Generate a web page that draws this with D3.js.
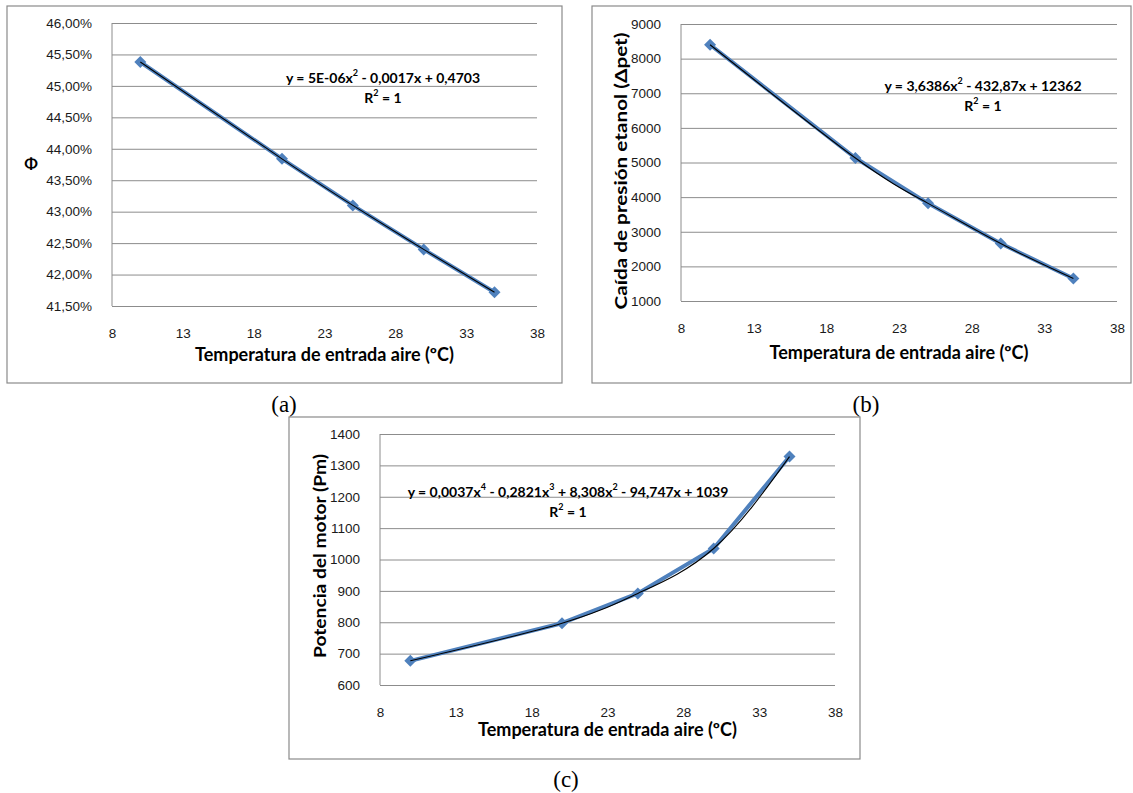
<!DOCTYPE html>
<html>
<head>
  <meta charset="utf-8">
  <title>Temperatura de entrada aire</title>
  <script src="https://d3js.org/d3.v7.min.js"></script>
  <style>
    body { margin: 0; background: #fff; }
    svg { display: block; font-family: Lato, "Open Sans", sans-serif; }
    .frame { fill: #fff; stroke: #8a8a8a; stroke-width: 1.2; }
    .grid line { stroke: #8c8c8c; stroke-width: 1; }
    .grid .domain { display: none; }
    .axis .domain { stroke: #8c8c8c; stroke-width: 1; }
    .axis .tick line { display: none; }
    .axis .tick text { font-size: 13.5px; fill: #1a1a1a; }
    .title { font-size: 18px; font-weight: bold; fill: #000; }
    .eq { font-size: 14px; font-weight: bold; fill: #000; }
    .series { fill: none; stroke: #4f81bd; stroke-width: 4; stroke-linejoin: round; }
    .trend { fill: none; stroke: #000; stroke-width: 1.1; }
    .marker { fill: #4f81bd; }
    .caption { font-family: "Liberation Serif", "DejaVu Serif", serif; font-size: 23px; fill: #000; }
  </style>
</head>
<body>
<script>
  // shared x values (temperature, ºC)
  const temps = [10, 20, 25, 30, 35]
  const xTicks = [8, 13, 18, 23, 28, 33, 38]

  // (a) phi, in %
  const phiValues = [45.38, 43.84, 43.10, 42.40, 41.72]
  const phiTicks = [41.5, 42, 42.5, 43, 43.5, 44, 44.5, 45, 45.5, 46]

  // (b) pressure drop of ethanol
  const pressureValues = [8400, 5130, 3820, 2660, 1650]
  const pressureTicks = [1000, 2000, 3000, 4000, 5000, 6000, 7000, 8000, 9000]

  // (c) engine power
  const powerValues = [677, 797, 892, 1035, 1328]
  const powerTicks = [600, 700, 800, 900, 1000, 1100, 1200, 1300, 1400]

  const xTitle = 'Temperatura de entrada aire (ºC)'

  const comma = d3.formatLocale({ decimal: ',', thousands: '.', grouping: [3], currency: ['', ''] })
  const pctFormat = d => comma.format('.2f')(d) + '%'

  const svg = d3.select('body').append('svg')
    .attr('width', 1133)
    .attr('height', 793)

  const panels = [
    {
      box: [7, 6, 555, 377], plot: { left: 112, right: 537, top: 23, bottom: 306 },
      values: phiValues, ticks: phiTicks, fmt: pctFormat,
      yTitle: 'Φ', yTitleRotate: false, yTitlePos: [31, 162],
      xTitleY: 354,
      eq: ['y = 5E-06x', '2', ' - 0,0017x + 0,4703'], eqPos: [383, 77],
      caption: '(a)', captionPos: [284, 404]
    },
    {
      box: [592, 6, 539, 377], plot: { left: 681, right: 1117, top: 24, bottom: 301 },
      values: pressureValues, ticks: pressureTicks, fmt: d3.format('d'),
      yTitle: 'Caída de presión etanol (Δpet)', yTitleRotate: true, yTitlePos: [620, 171], yTitleLen: 277,
      xTitleY: 352,
      eq: ['y = 3,6386x', '2', ' - 432,87x + 12362'], eqPos: [983, 85],
      caption: '(b)', captionPos: [866, 404]
    },
    {
      box: [289, 417, 571, 342], plot: { left: 380, right: 835, top: 434, bottom: 685 },
      values: powerValues, ticks: powerTicks, fmt: d3.format('d'),
      yTitle: 'Potencia del motor (Pm)', yTitleRotate: true, yTitlePos: [319, 556], yTitleLen: 204,
      xTitleY: 729,
      eq: ['y = 0,0037x', '4', ' - 0,2821x', '3', ' + 8,308x', '2', ' - 94,747x + 1039'], eqPos: [568, 491],
      caption: '(c)', captionPos: [566, 779]
    }
  ]

  panels.forEach(drawPanel)

  function drawPanel(p) {
    const pl = p.plot
    svg.append('rect')
      .attr('class', 'frame')
      .attr('x', p.box[0]).attr('y', p.box[1])
      .attr('width', p.box[2]).attr('height', p.box[3])

    const x = d3.scaleLinear().domain([8, 38]).range([pl.left, pl.right])
    const y = d3.scaleLinear().domain(d3.extent(p.ticks)).range([pl.bottom, pl.top])

    //Draw grid
    svg.append('g')
      .attr('class', 'grid')
      .attr('transform', `translate(${pl.left},0)`)
      .call(d3.axisLeft(y).tickValues(p.ticks).tickSize(-(pl.right - pl.left)).tickFormat(''))

    // y axis
    const yAxis = svg.append('g')
      .attr('class', 'axis')
      .attr('transform', `translate(${pl.left},0)`)
      .call(d3.axisLeft(y).tickValues(p.ticks).tickFormat(p.fmt).tickSizeOuter(0).tickPadding(14))
    yAxis.select('.domain').attr('d', `M0,${pl.top}V${pl.bottom}`)

    // x axis (labels only)
    const xAxis = svg.append('g')
      .attr('class', 'axis')
      .attr('transform', `translate(0,${pl.bottom})`)
      .call(d3.axisBottom(x).tickValues(xTicks).tickFormat(d3.format('d')).tickSizeOuter(0).tickPadding(16))
    xAxis.select('.domain').remove()

    const pts = temps.map((t, i) => [t, p.values[i]])

    // data series
    svg.append('path')
      .datum(pts)
      .attr('class', 'series')
      .attr('d', d3.line().x(d => x(d[0])).y(d => y(d[1])))

    // diamond markers (square turned 45 degrees)
    svg.selectAll(null)
      .data(pts)
      .enter()
      .append('path')
      .attr('class', 'marker')
      .attr('transform', d => `translate(${x(d[0])},${y(d[1])}) rotate(45)`)
      .attr('d', d3.symbol().type(d3.symbolSquare).size(72))

    // trendline (smooth through the points)
    svg.append('path')
      .datum(pts)
      .attr('class', 'trend')
      .attr('d', d3.line().x(d => x(d[0])).y(d => y(d[1])).curve(d3.curveNatural))

    // equation
    const eq = svg.append('text')
      .attr('class', 'eq')
      .attr('x', p.eqPos[0]).attr('y', p.eqPos[1])
      .attr('text-anchor', 'middle')
      .attr('dominant-baseline', 'central')
    p.eq.forEach((s, i) => {
      const sup = i % 2 === 1
      eq.append('tspan')
        .attr('dy', sup ? -5 : (i > 0 ? 5 : 0))
        .style('font-size', sup ? '9px' : null)
        .text(s)
    })
    const r2 = svg.append('text')
      .attr('class', 'eq')
      .attr('x', p.eqPos[0]).attr('y', p.eqPos[1] + 20)
      .attr('text-anchor', 'middle')
      .attr('dominant-baseline', 'central')
    r2.append('tspan').text('R')
    r2.append('tspan').attr('dy', -5).style('font-size', '9px').text('2')
    r2.append('tspan').attr('dy', 5).text(' = 1')

    // x Axis Title
    svg.append('text')
      .attr('class', 'title')
      .attr('x', (pl.left + pl.right) / 2)
      .attr('y', p.xTitleY)
      .attr('text-anchor', 'middle')
      .attr('dominant-baseline', 'central')
      .text(xTitle)

    // y Axis Title
    const yt = svg.append('text')
      .attr('class', 'title')
      .attr('text-anchor', 'middle')
      .attr('dominant-baseline', 'central')
      .text(p.yTitle)
    if (p.yTitleRotate) {
      yt.attr('transform', `translate(${p.yTitlePos[0]},${p.yTitlePos[1]}) rotate(-90)`)
        .style('font-size', '17px')
      if (p.yTitleLen) yt.attr('textLength', p.yTitleLen).attr('lengthAdjust', 'spacingAndGlyphs')
    } else {
      yt.attr('x', p.yTitlePos[0]).attr('y', p.yTitlePos[1]).style('font-size', '16px')
    }

    // panel caption
    svg.append('text')
      .attr('class', 'caption')
      .attr('x', p.captionPos[0]).attr('y', p.captionPos[1])
      .attr('text-anchor', 'middle')
      .attr('dominant-baseline', 'central')
      .text(p.caption)
  }
</script>
</body>
</html>
